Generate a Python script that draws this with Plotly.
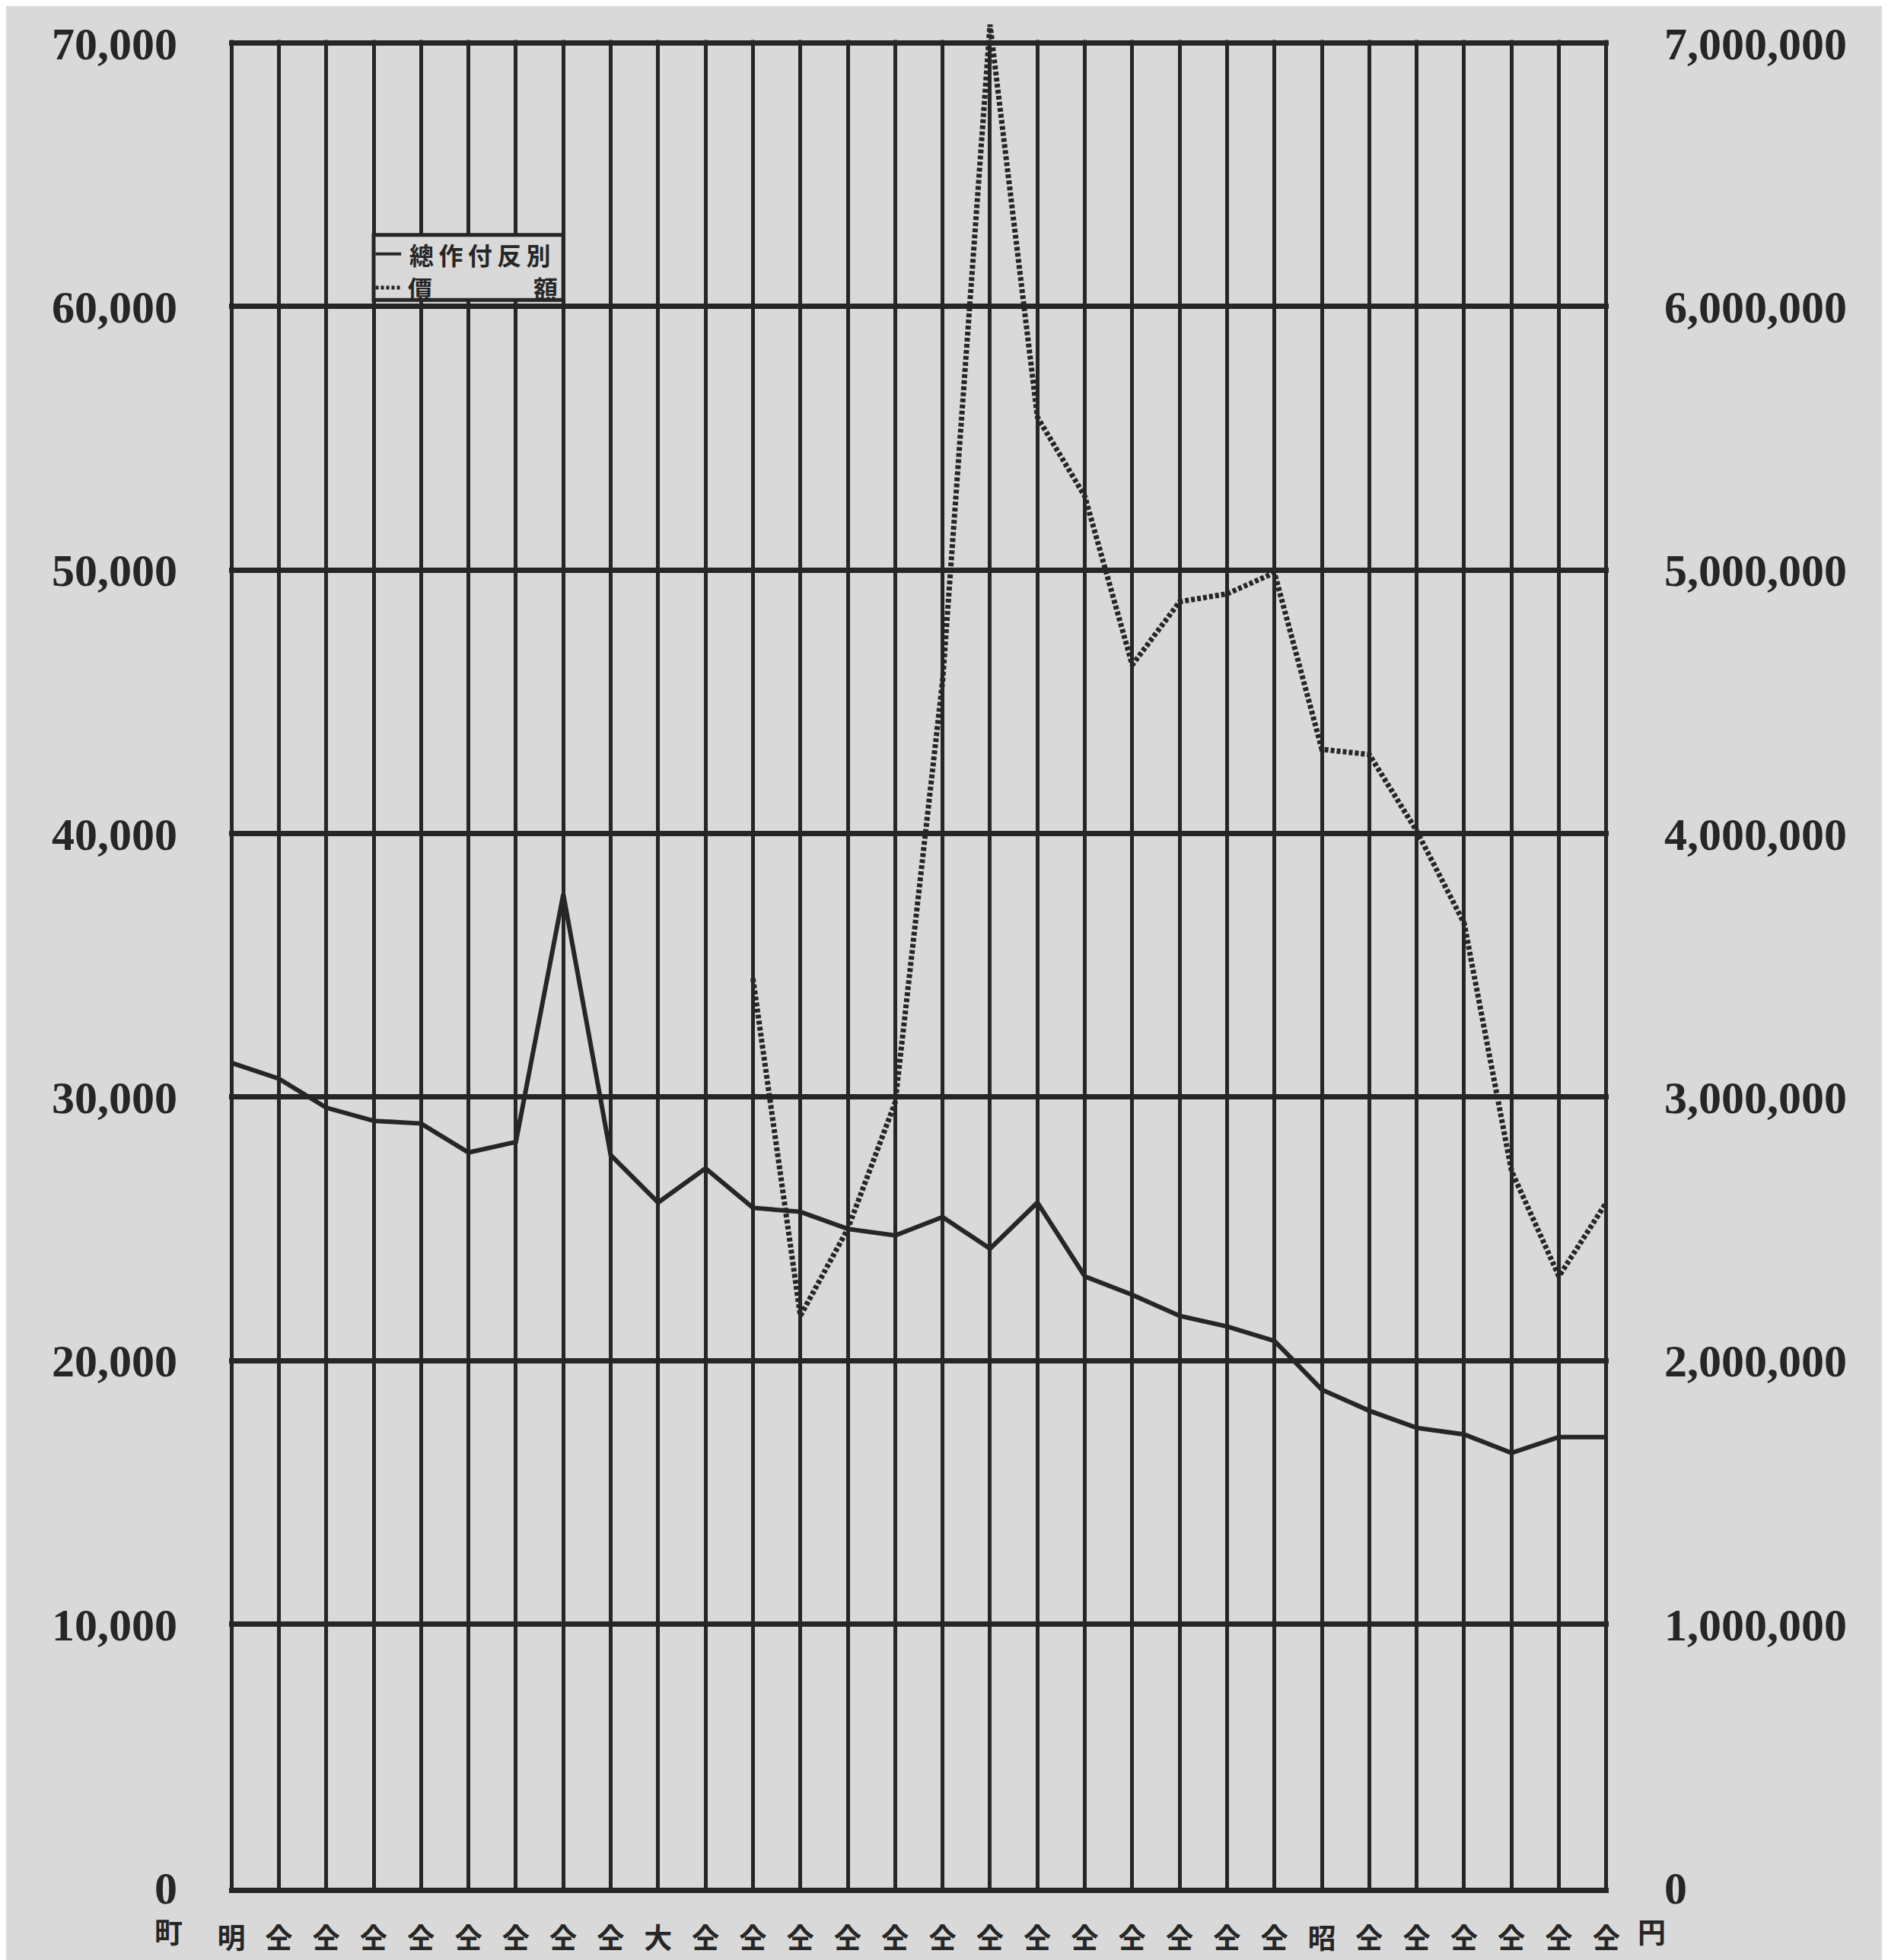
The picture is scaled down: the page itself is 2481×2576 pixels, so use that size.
import plotly.graph_objects as go

# ---- data ----
x_labels = ["明<br>治", "仝", "仝", "仝", "仝", "仝", "仝", "仝", "仝",
            "大", "仝", "仝", "仝", "仝", "仝", "仝", "仝", "仝", "仝", "仝",
            "仝", "仝", "仝",
            "昭<br>和", "仝", "仝", "仝", "仝", "仝", "仝"]

area_cho = [31300, 30700, 29600, 29100, 29000, 27900, 28300, 37700, 27800, 26000,
            27300, 25800, 25650, 25000, 24750, 25450, 24250, 26000, 23200, 22500,
            21700, 21300, 20750, 18900, 18100, 17450, 17200, 16500, 17100, 17100]

value_yen = [None, None, None, None, None, None, None, None, None, None,
             None, 3450000, 2170000, 2500000, 2980000, 4580000, 7070000, 5580000, 5280000, 4640000,
             4880000, 4910000, 4990000, 4320000, 4300000, 4010000, 3660000, 2720000, 2320000, 2600000]

left_ticks = [0, 10000, 20000, 30000, 40000, 50000, 60000, 70000]
right_ticks = [0, 1000000, 2000000, 3000000, 4000000, 5000000, 6000000, 7000000]

legend_solid = "總\u2009作\u2009付\u2009反\u2009別"
legend_dot_a = "價"
legend_dot_b = "額"

BG = "#d9d9d9"
INK = "#262626"

# a little head-room above the 70,000 frame line so the peak can poke out
LEFT_TOP = 71200
RIGHT_TOP = 7120000
XPAD = 0.05

x = list(range(len(x_labels)))
n = len(x_labels)

fig = go.Figure()
fig.add_trace(go.Scatter(x=x, y=area_cho, mode="lines", yaxis="y",
                         line=dict(color=INK, width=6), showlegend=False))
fig.add_trace(go.Scatter(x=x, y=value_yen, mode="lines", yaxis="y2",
                         line=dict(color=INK, width=7, dash="5px,3px"),
                         showlegend=False, connectgaps=False))

num_font = dict(family="Liberation Serif", size=60, color=INK, weight="bold")
cjk_font = dict(family="Noto Sans CJK JP", size=37, color=INK, weight="bold")

fig.update_layout(
    width=2481, height=2576,
    margin=dict(l=293, r=375, t=7, b=103, autoexpand=False),
    paper_bgcolor=BG, plot_bgcolor=BG,
    xaxis=dict(range=[-XPAD, n - 1 + XPAD], tickvals=x, ticktext=x_labels,
               showgrid=True, gridcolor=INK, gridwidth=5, zeroline=False,
               showline=True, linecolor=INK, linewidth=7, mirror=False,
               ticks="", ticklabelstandoff=29, automargin=False,
               tickfont=cjk_font),
    yaxis=dict(range=[0, LEFT_TOP], tickvals=left_ticks, tickformat=",",
               showgrid=True, gridcolor=INK, gridwidth=7, zeroline=False,
               showline=False, automargin=False,
               ticks="", ticklabelstandoff=67, tickfont=num_font),
    yaxis2=dict(range=[0, RIGHT_TOP], tickvals=right_ticks, tickformat=",",
                overlaying="y", side="right", showgrid=False, zeroline=False,
                showline=False, ticks="", ticklabelstandoff=72, automargin=False,
                tickfont=num_font),
    showlegend=False,
)

# hide the grid above the 70,000 frame line (traces stay on top)
fig.add_shape(type="rect", xref="x", yref="y", x0=-XPAD - 0.1, x1=n - 1 + XPAD + 0.1,
              y0=70115, y1=LEFT_TOP + 500, fillcolor=BG, line=dict(width=0), layer="between")

# unit labels under the axes
fig.add_annotation(text="町", xref="paper", yref="paper", x=-0.0436, y=-0.0232,
                   showarrow=False, xanchor="center", yanchor="middle", font=cjk_font)
fig.add_annotation(text="円", xref="paper", yref="paper", x=1.0309, y=-0.0232,
                   showarrow=False, xanchor="center", yanchor="middle", font=cjk_font)

# legend box (drawn over the grid)
fig.add_shape(type="rect", xref="x", yref="y", x0=3, x1=7, y0=60250, y1=62720,
              fillcolor=BG, line=dict(color=INK, width=5), layer="above")
fig.add_shape(type="line", xref="x", yref="y", x0=3.04, x1=3.58, y0=62000, y1=62000,
              line=dict(color=INK, width=4), layer="above")
fig.add_shape(type="line", xref="x", yref="y", x0=3.04, x1=3.58, y0=60720, y1=60720,
              line=dict(color=INK, width=5, dash="4px,3px"), layer="above")
leg_font = dict(family="Noto Sans CJK JP", size=32, color=INK, weight="bold")
fig.add_annotation(text=legend_solid, xref="x", yref="y", x=5.25, y=62000,
                   showarrow=False, xanchor="center", yanchor="middle", font=leg_font,
                   borderpad=0)
fig.add_annotation(text=legend_dot_a, xref="x", yref="y", x=3.98, y=60720,
                   showarrow=False, xanchor="center", yanchor="middle", font=leg_font,
                   borderpad=0)
fig.add_annotation(text=legend_dot_b, xref="x", yref="y", x=6.63, y=60720,
                   showarrow=False, xanchor="center", yanchor="middle", font=leg_font,
                   borderpad=0)

fig.write_html("out.html")
